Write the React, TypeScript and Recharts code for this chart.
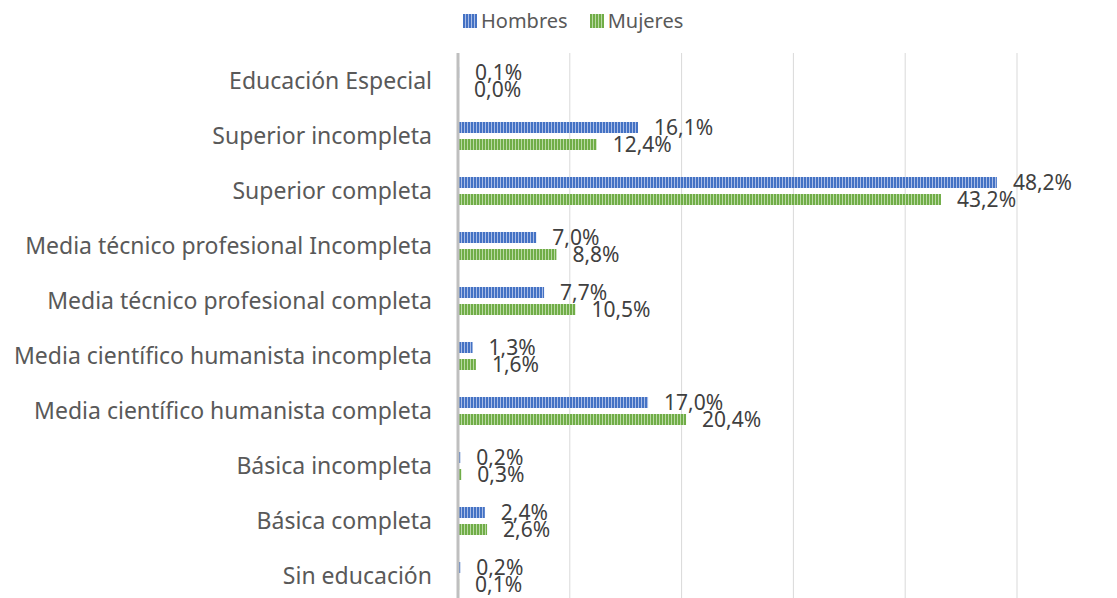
import React from 'react';
import { BarChart, Bar, XAxis, YAxis, CartesianGrid, LabelList, Legend } from 'recharts';

const categories = [
  'Educación Especial',
  'Superior incompleta',
  'Superior completa',
  'Media técnico profesional Incompleta',
  'Media técnico profesional completa',
  'Media científico humanista incompleta',
  'Media científico humanista completa',
  'Básica incompleta',
  'Básica completa',
  'Sin educación',
];
const hombres = [0.1, 16.1, 48.2, 7.0, 7.7, 1.3, 17.0, 0.2, 2.4, 0.2];
const mujeres = [0.0, 12.4, 43.2, 8.8, 10.5, 1.6, 20.4, 0.3, 2.6, 0.1];
const xTicks = [0, 10, 20, 30, 40, 50];

const data = categories.map((name, i) => ({ name, Hombres: hombres[i], Mujeres: mujeres[i] }));

const fmt = (v: any) => Number(v).toFixed(1).replace('.', ',') + '%';

// zero-valued bars still need a rect so their label is drawn
const minSize = (v: any) => (v === 0 ? 0.01 : 0);

const legendItems = [
  { label: 'Hombres', pat: 'url(#patH)' },
  { label: 'Mujeres', pat: 'url(#patM)' },
];

const renderLegend = () => (
  <div style={{ display: 'flex', gap: 22, alignItems: 'center', fontSize: 20, color: '#595959' }}>
    {legendItems.map((it) => (
      <div key={it.label} style={{ display: 'flex', alignItems: 'center', gap: 4 }}>
        <svg width={14} height={14}>
          <rect width={14} height={14} fill={it.pat} />
        </svg>
        <span>{it.label}</span>
      </div>
    ))}
  </div>
);

export default function App() {
  return (
    <div style={{ position: 'fixed', left: 0, top: 0, width: 1117, height: 598, overflow: 'hidden', background: '#fff', fontFamily: '"Noto Sans", sans-serif' }}>
      <BarChart
        width={1117}
        height={610}
        data={data}
        layout="vertical"
        margin={{ top: 26, right: 100, bottom: 7, left: 0 }}
        barSize={11}
        barGap={6}
      >
        <defs>
          <pattern id="patH" width={3} height={4} patternUnits="userSpaceOnUse">
            <rect width={3} height={4} fill="#a9bce6" />
            <rect width={2} height={4} fill="#4472c4" />
          </pattern>
          <pattern id="patM" width={3} height={4} patternUnits="userSpaceOnUse">
            <rect width={3} height={4} fill="#b9d9a3" />
            <rect width={2} height={4} fill="#70ad47" />
          </pattern>
        </defs>
        <CartesianGrid horizontal={false} stroke="#d9d9d9" />
        <XAxis type="number" domain={[0, 50]} ticks={xTicks} hide />
        <YAxis
          type="category"
          dataKey="name"
          width={458}
          tickLine={false}
          tickSize={0}
          tickMargin={26}
          axisLine={{ stroke: '#bfbfbf', strokeWidth: 3 }}
          tick={{ fill: '#595959', fontSize: 23 }}
          interval={0}
        />
        <Legend
          verticalAlign="top"
          content={renderLegend}
          wrapperStyle={{ position: 'absolute', top: 7, left: 463, width: 'auto' }}
        />
        <Bar dataKey="Hombres" fill="url(#patH)" minPointSize={minSize} isAnimationActive={false}>
          <LabelList dataKey="Hombres" position="right" offset={16} formatter={fmt} fill="#404040" fontSize={21} />
        </Bar>
        <Bar dataKey="Mujeres" fill="url(#patM)" minPointSize={minSize} isAnimationActive={false}>
          <LabelList dataKey="Mujeres" position="right" offset={16} formatter={fmt} fill="#404040" fontSize={21} />
        </Bar>
      </BarChart>
    </div>
  );
}
